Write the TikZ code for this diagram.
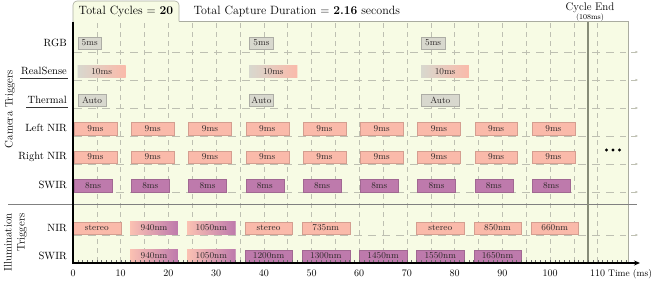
\documentclass[tikz,border=0pt]{standalone}
\usetikzlibrary{arrows.meta}
\definecolor{bgc}{RGB}{247,251,228}
\definecolor{salm}{RGB}{250,186,170}
\definecolor{purp}{RGB}{190,122,172}
\definecolor{grayb}{RGB}{216,216,206}
\definecolor{gridc}{RGB}{190,192,178}
\definecolor{framec}{RGB}{170,172,160}
\definecolor{cyclec}{RGB}{135,140,120}
\definecolor{txtc}{RGB}{45,40,40}
\newcounter{barno}
\newcommand\tbar[5]{%
  \stepcounter{barno}%
  \node[barbox,#4,minimum width=#2*4.77pt,anchor=west] (bar\arabic{barno}) at ({73+#1*4.77},#3) {#5};}
\begin{document}
\begin{tikzpicture}[x=1pt,y=-1pt,
  barbox/.style={inner sep=0pt,outer sep=0pt,minimum height=12.5pt,text=txtc,
    font=\fontsize{9}{10}\selectfont},
  sal/.style={fill=salm,draw=salm!85!black,line width=0.3pt},
  pur/.style={fill=purp,draw=purp!85!black,line width=0.3pt},
  gry/.style={fill=grayb,draw=grayb!80!black,line width=0.3pt},
  gsal/.style={left color=grayb,right color=salm},
  spur/.style={left color=salm!90!white,right color=purp},
  rowlab/.style={anchor=east,inner sep=1pt,font=\fontsize{10.5}{12}\selectfont},
  gridv/.style={gridc,line width=0.5pt,dash pattern=on 5pt off 4pt},
  gridh/.style={gridc,line width=0.5pt,dash pattern=on 8pt off 6pt},
  ulin/.style={line width=0.5pt,black!80}]
\useasboundingbox (0,0) rectangle (654,281);
% background
\fill[bgc] (73,21) rectangle (628,263);
\draw[framec,line width=0.6pt] (179,21) -- (628,21) -- (628,263);
\draw[framec,line width=0.6pt,fill=bgc,rounded corners=4pt] (73,22) -- (73,1) -- (179,1) -- (179,21.3);
\node (tc) at (126,11.5) {\fontsize{12}{14}\selectfont Total Cycles = \textbf{20}};
\node[anchor=west] (td) at (190,11.5) {\fontsize{12}{14}\selectfont Total Capture Duration = \textbf{2.16} seconds};
% grid
\foreach \t in {5,10,...,110} \draw[gridv] ({73+\t*4.77},23) -- ({73+\t*4.77},262);
\foreach \yy in {52,80,108,136,164,192,235} {
  \draw[gridh] (74,\yy) -- (626,\yy);
  \draw[gridc,line width=0.4pt,-{Latex[length=2.5pt,width=2.5pt]}] (631,\yy) -- (638,\yy);
}
% bars: RGB
\foreach \s in {1,37,73} \tbar{\s}{5}{43}{gry}{5ms}
% RealSense
\foreach \s in {1,37,73} \tbar{\s}{10}{71.5}{gsal}{10ms}
% Thermal
\tbar{1}{6}{100}{gry}{Auto}
\tbar{37}{5}{100}{gry}{Auto}
\tbar{73}{8}{100}{gry}{Auto}
% Left / Right NIR, SWIR camera
\foreach \k in {0,...,8} {
  \tbar{1+12*\k}{9}{128.5}{sal}{9ms}
  \tbar{1+12*\k}{9}{157}{sal}{9ms}
  \tbar{1+12*\k}{8}{185.5}{pur}{8ms}
}
% Illumination NIR
\tbar{0}{10}{228}{sal}{stereo}
\tbar{12}{10}{228}{spur}{940nm}
\tbar{24}{10}{228}{spur}{1050nm}
\tbar{36}{10}{228}{sal}{stereo}
\tbar{48}{10}{228}{sal}{735nm}
\tbar{72}{10}{228}{sal}{stereo}
\tbar{84}{10}{228}{sal}{850nm}
\tbar{96}{10}{228}{sal}{660nm}
% Illumination SWIR
\tbar{12}{10}{256}{spur}{940nm}
\tbar{24}{10}{256}{spur}{1050nm}
\tbar{36}{10}{256}{pur}{1200nm}
\tbar{48}{10}{256}{pur}{1300nm}
\tbar{60}{10}{256}{pur}{1450nm}
\tbar{72}{10}{256}{pur}{1550nm}
\tbar{84}{10}{256}{pur}{1650nm}
% separator
\draw[black!50,line width=0.6pt] (8,204) -- (637,204);
% cycle end
\draw[cyclec,line width=1.1pt] (588,21.5) -- (588,262.5);
\node (ce) at (590,7.5) {\fontsize{11}{12}\selectfont Cycle End};
\node (ce2) at (590,17.6) {\fontsize{7.5}{8}\selectfont (108ms)};
% dots
\foreach \xx in {606.5,613,619.5} \fill (\xx,150) circle (1.7pt);
% ticks
\foreach \t in {1,...,116} \draw[black!60,line width=0.4pt] ({73+\t*4.77},263) -- ({73+\t*4.77},259.5);
\foreach \t in {0,10,...,110} \node[font=\fontsize{10}{11}\selectfont,inner sep=0pt] (xl\t) at ({73+\t*4.77},273.5) {\t};
\node[anchor=west,inner sep=0pt] (tm) at (608,274.5) {\fontsize{9.5}{10}\selectfont Time (ms)};
% axes
\draw[black,line width=1.3pt] (73,21.5) -- (73,263);
\draw[black,line width=1.3pt,-{Stealth[length=6pt,width=5pt]}] (72.35,263) -- (640,263);
% row labels
\node[rowlab] (lrgb) at (68,43) {RGB};
\node[rowlab] (lrs) at (68,71) {RealSense};
\node[rowlab] (lth) at (68,100) {Thermal};
\node[rowlab] (lln) at (68,128) {Left NIR};
\node[rowlab] (lrn) at (68,157) {Right NIR};
\node[rowlab] (lsw) at (68,185) {SWIR};
\node[rowlab] (lnir) at (68,228) {NIR};
\node[rowlab] (lsw2) at (68,256) {SWIR};
\draw[ulin] ([yshift=-4pt]lrs.base west) -- ([yshift=-4pt]lrs.base east);
\draw[ulin] ([yshift=-4pt]lth.base west) -- ([yshift=-4pt]lth.base east);
% group labels
\node[rotate=90,font=\fontsize{11}{12}\selectfont] (gcam) at (10,109) {Camera Triggers};
\node[rotate=90,align=right,font=\fontsize{11}{13}\selectfont,anchor=east] (gill) at (15.5,210) {Illumination\\Triggers};
\end{tikzpicture}
\end{document}
